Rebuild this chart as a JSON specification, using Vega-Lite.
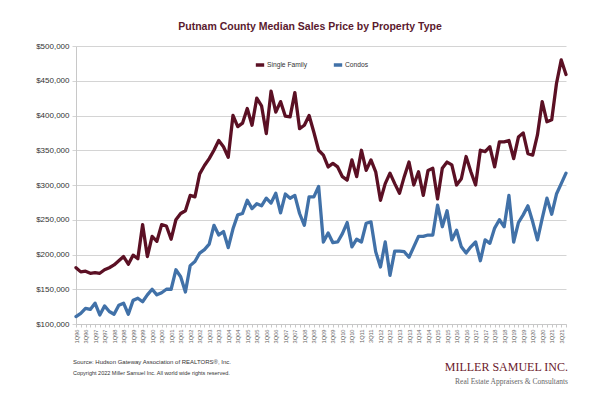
{
  "$schema": "https://vega.github.io/schema/vega-lite/v6.json",
  "width": 490,
  "height": 278,
  "autosize": "none",
  "padding": {"left": 76, "top": 46, "right": 34, "bottom": 73},
  "background": "white",
  "title": {
    "text": "Putnam County Median Sales Price by Property Type",
    "font": "Liberation Sans",
    "fontSize": 10.5,
    "fontWeight": "bold",
    "color": "#5a1a2e",
    "anchor": "middle",
    "dx": -11,
    "offset": 10
  },
  "config": {
    "view": {"stroke": null},
    "axis": {"labelFont": "Liberation Sans", "titleFont": "Liberation Sans"},
    "legend": {
      "orient": "none",
      "legendX": 178,
      "legendY": 13,
      "direction": "horizontal",
      "symbolType": "stroke",
      "symbolSize": 70,
      "symbolStrokeWidth": 3.5,
      "labelFont": "Liberation Sans",
      "labelFontSize": 6.7,
      "labelColor": "#333333",
      "labelOffset": 1,
      "columnPadding": 18
    }
  },
  "resolve": {"axis": {"x": "independent", "y": "independent"}},
  "layer": [
    {
      "data": {
        "values": [
          {"q": "1Q96", "Single Family": 181000, "Condos": 110600},
          {"q": "2Q96", "Single Family": 175000, "Condos": 115400},
          {"q": "3Q96", "Single Family": 176000, "Condos": 122600},
          {"q": "4Q96", "Single Family": 173000, "Condos": 121000},
          {"q": "1Q97", "Single Family": 174000, "Condos": 130000},
          {"q": "2Q97", "Single Family": 173000, "Condos": 113000},
          {"q": "3Q97", "Single Family": 178000, "Condos": 126000},
          {"q": "4Q97", "Single Family": 181000, "Condos": 118000},
          {"q": "1Q98", "Single Family": 185000, "Condos": 114000},
          {"q": "2Q98", "Single Family": 191000, "Condos": 127000},
          {"q": "3Q98", "Single Family": 197000, "Condos": 130000},
          {"q": "4Q98", "Single Family": 186000, "Condos": 114000},
          {"q": "1Q99", "Single Family": 199000, "Condos": 134000},
          {"q": "2Q99", "Single Family": 194000, "Condos": 137000},
          {"q": "3Q99", "Single Family": 243000, "Condos": 132000},
          {"q": "4Q99", "Single Family": 197000, "Condos": 142000},
          {"q": "1Q00", "Single Family": 226000, "Condos": 150000},
          {"q": "2Q00", "Single Family": 219000, "Condos": 142000},
          {"q": "3Q00", "Single Family": 243000, "Condos": 145000},
          {"q": "4Q00", "Single Family": 241000, "Condos": 150000},
          {"q": "1Q01", "Single Family": 222000, "Condos": 150000},
          {"q": "2Q01", "Single Family": 250000, "Condos": 178000},
          {"q": "3Q01", "Single Family": 259000, "Condos": 168000},
          {"q": "4Q01", "Single Family": 263000, "Condos": 146000},
          {"q": "1Q02", "Single Family": 285000, "Condos": 184000},
          {"q": "2Q02", "Single Family": 283000, "Condos": 190000},
          {"q": "3Q02", "Single Family": 316000, "Condos": 202000},
          {"q": "4Q02", "Single Family": 328000, "Condos": 207000},
          {"q": "1Q03", "Single Family": 338000, "Condos": 215000},
          {"q": "2Q03", "Single Family": 350000, "Condos": 242000},
          {"q": "3Q03", "Single Family": 364000, "Condos": 228000},
          {"q": "4Q03", "Single Family": 355000, "Condos": 233000},
          {"q": "1Q04", "Single Family": 340000, "Condos": 210000},
          {"q": "2Q04", "Single Family": 400000, "Condos": 237000},
          {"q": "3Q04", "Single Family": 384000, "Condos": 257000},
          {"q": "4Q04", "Single Family": 389000, "Condos": 259000},
          {"q": "1Q05", "Single Family": 410000, "Condos": 278000},
          {"q": "2Q05", "Single Family": 386000, "Condos": 266000},
          {"q": "3Q05", "Single Family": 425000, "Condos": 273000},
          {"q": "4Q05", "Single Family": 414000, "Condos": 270000},
          {"q": "1Q06", "Single Family": 374000, "Condos": 281000},
          {"q": "2Q06", "Single Family": 435000, "Condos": 274000},
          {"q": "3Q06", "Single Family": 405000, "Condos": 288000},
          {"q": "4Q06", "Single Family": 420000, "Condos": 260000},
          {"q": "1Q07", "Single Family": 399000, "Condos": 287000},
          {"q": "2Q07", "Single Family": 398000, "Condos": 281000},
          {"q": "3Q07", "Single Family": 433000, "Condos": 285000},
          {"q": "4Q07", "Single Family": 381000, "Condos": 259000},
          {"q": "1Q08", "Single Family": 386000, "Condos": 242000},
          {"q": "2Q08", "Single Family": 400000, "Condos": 283000},
          {"q": "3Q08", "Single Family": 376000, "Condos": 283000},
          {"q": "4Q08", "Single Family": 350000, "Condos": 298000},
          {"q": "1Q09", "Single Family": 343000, "Condos": 218000},
          {"q": "2Q09", "Single Family": 326000, "Condos": 231000},
          {"q": "3Q09", "Single Family": 331000, "Condos": 217000},
          {"q": "4Q09", "Single Family": 326000, "Condos": 218000},
          {"q": "1Q10", "Single Family": 312000, "Condos": 230000},
          {"q": "2Q10", "Single Family": 307000, "Condos": 246000},
          {"q": "3Q10", "Single Family": 336000, "Condos": 211000},
          {"q": "4Q10", "Single Family": 312000, "Condos": 222000},
          {"q": "1Q11", "Single Family": 350000, "Condos": 218000},
          {"q": "2Q11", "Single Family": 321000, "Condos": 245000},
          {"q": "3Q11", "Single Family": 336000, "Condos": 247000},
          {"q": "4Q11", "Single Family": 319000, "Condos": 204000},
          {"q": "1Q12", "Single Family": 278000, "Condos": 182000},
          {"q": "2Q12", "Single Family": 302000, "Condos": 218000},
          {"q": "3Q12", "Single Family": 317000, "Condos": 170000},
          {"q": "4Q12", "Single Family": 302000, "Condos": 205000},
          {"q": "1Q13", "Single Family": 288000, "Condos": 205000},
          {"q": "2Q13", "Single Family": 312000, "Condos": 204000},
          {"q": "3Q13", "Single Family": 333000, "Condos": 196000},
          {"q": "4Q13", "Single Family": 300000, "Condos": 211000},
          {"q": "1Q14", "Single Family": 319000, "Condos": 226000},
          {"q": "2Q14", "Single Family": 285000, "Condos": 226000},
          {"q": "3Q14", "Single Family": 321000, "Condos": 228000},
          {"q": "4Q14", "Single Family": 324000, "Condos": 228000},
          {"q": "1Q15", "Single Family": 280000, "Condos": 271000},
          {"q": "2Q15", "Single Family": 324000, "Condos": 240000},
          {"q": "3Q15", "Single Family": 333000, "Condos": 263000},
          {"q": "4Q15", "Single Family": 329000, "Condos": 221000},
          {"q": "1Q16", "Single Family": 300000, "Condos": 235000},
          {"q": "2Q16", "Single Family": 309000, "Condos": 211000},
          {"q": "3Q16", "Single Family": 341000, "Condos": 202000},
          {"q": "4Q16", "Single Family": 319000, "Condos": 211000},
          {"q": "1Q17", "Single Family": 300000, "Condos": 218000},
          {"q": "2Q17", "Single Family": 350000, "Condos": 191000},
          {"q": "3Q17", "Single Family": 348000, "Condos": 221000},
          {"q": "4Q17", "Single Family": 355000, "Condos": 216000},
          {"q": "1Q18", "Single Family": 326000, "Condos": 238000},
          {"q": "2Q18", "Single Family": 362000, "Condos": 250000},
          {"q": "3Q18", "Single Family": 362000, "Condos": 240000},
          {"q": "4Q18", "Single Family": 364000, "Condos": 285000},
          {"q": "1Q19", "Single Family": 338000, "Condos": 218000},
          {"q": "2Q19", "Single Family": 369000, "Condos": 246000},
          {"q": "3Q19", "Single Family": 375000, "Condos": 257000},
          {"q": "4Q19", "Single Family": 345000, "Condos": 270000},
          {"q": "1Q20", "Single Family": 343000, "Condos": 247000},
          {"q": "2Q20", "Single Family": 372000, "Condos": 221000},
          {"q": "3Q20", "Single Family": 420000, "Condos": 252000},
          {"q": "4Q20", "Single Family": 391000, "Condos": 281000},
          {"q": "1Q21", "Single Family": 394000, "Condos": 258000},
          {"q": "2Q21", "Single Family": 446000, "Condos": 287000},
          {"q": "3Q21", "Single Family": 480000, "Condos": 302000},
          {"q": "4Q21", "Single Family": 459000, "Condos": 317000}
        ]
      },
      "transform": [{"fold": ["Single Family", "Condos"], "as": ["type", "price"]}],
      "mark": {"type": "line", "strokeWidth": 3.3, "strokeJoin": "round", "strokeCap": "round"},
      "encoding": {
        "x": {
          "field": "q",
          "type": "ordinal",
          "sort": null,
          "scale": {"type": "point", "padding": 0},
          "axis": {
            "title": null,
            "labelAngle": -90,
            "labelFontSize": 5.7,
            "labelColor": "#666666",
            "labelPadding": 2,
            "labelOverlap": false,
            "labelExpr": "indexof(datum.value, '1Q') == 0 || indexof(datum.value, '3Q') == 0 ? datum.value : ''",
            "tickSize": 3,
            "tickColor": "#c8c8c8",
            "domainColor": "#c8c8c8",
            "grid": false
          }
        },
        "y": {
          "field": "price",
          "type": "quantitative",
          "scale": {"domain": [100000, 500000], "nice": false, "zero": false},
          "axis": {
            "title": null,
            "values": [100000, 150000, 200000, 250000, 300000, 350000, 400000, 450000, 500000],
            "format": "$,.0f",
            "labelFontSize": 8,
            "labelColor": "#333333",
            "labelPadding": 3,
            "labelOverlap": false,
            "tickSize": 4,
            "tickColor": "#d4d4d4",
            "grid": true,
            "gridColor": "#d4d4d4",
            "domainColor": "#c8c8c8"
          }
        },
        "color": {
          "field": "type",
          "type": "nominal",
          "scale": {"domain": ["Single Family", "Condos"], "range": ["#5b1024", "#4171a8"]},
          "legend": {"title": null}
        }
      }
    },
    {
      "data": {"values": [{}]},
      "mark": {"type": "text", "align": "left", "baseline": "middle", "font": "Liberation Sans", "fontSize": 6, "color": "#333333", "dx": -3},
      "encoding": {
        "x": {"datum": "1Q96", "type": "ordinal", "axis": null},
        "y": {"datum": 45000, "type": "quantitative", "axis": null},
        "text": {"value": "Source: Hudson Gateway Association of REALTORS®, Inc."}
      }
    },
    {
      "data": {"values": [{}]},
      "mark": {"type": "text", "align": "left", "baseline": "middle", "font": "Liberation Sans", "fontSize": 5.5, "color": "#333333", "dx": -3},
      "encoding": {
        "x": {"datum": "1Q96", "type": "ordinal", "axis": null},
        "y": {"datum": 30000, "type": "quantitative", "axis": null},
        "text": {"value": "Copyright 2022 Miller Samuel Inc.  All world wide rights reserved."}
      }
    },
    {
      "data": {"values": [{}]},
      "mark": {"type": "text", "align": "right", "baseline": "middle", "font": "Liberation Serif", "fontSize": 12, "color": "#6b1a2c", "dx": 2},
      "encoding": {
        "x": {"datum": "4Q21", "type": "ordinal", "axis": null},
        "y": {"datum": 38500, "type": "quantitative", "axis": null},
        "text": {"value": "MILLER SAMUEL INC."}
      }
    },
    {
      "data": {"values": [{}]},
      "mark": {"type": "text", "align": "right", "baseline": "middle", "font": "Liberation Serif", "fontSize": 7.5, "color": "#666666", "dx": 2},
      "encoding": {
        "x": {"datum": "4Q21", "type": "ordinal", "axis": null},
        "y": {"datum": 16600, "type": "quantitative", "axis": null},
        "text": {"value": "Real Estate Appraisers & Consultants"}
      }
    }
  ]
}
